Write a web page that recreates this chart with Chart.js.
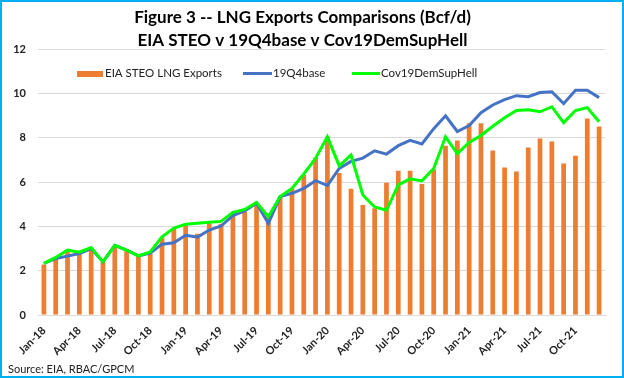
<!DOCTYPE html>
<html>
<head>
<meta charset="utf-8">
<script src="https://cdn.jsdelivr.net/npm/chart.js@4"></script>
<style>
  html, body { margin: 0; padding: 0; background: #fff; }
  #wrap { position: relative; width: 624px; height: 378px; }
  #c { position: absolute; left: 0; top: 0; }
  #frame { position: absolute; left: 0; top: 0; width: 624px; height: 378px; box-sizing: border-box; border: 2px solid #00B0F0; pointer-events: none; }
</style>
</head>
<body>
<div id="wrap">
  <canvas id="c" width="624" height="378"></canvas>
  <div id="frame"></div>
</div>
<script>
const categories = [
  'Jan-18','Feb-18','Mar-18','Apr-18','May-18','Jun-18','Jul-18','Aug-18','Sep-18','Oct-18','Nov-18','Dec-18',
  'Jan-19','Feb-19','Mar-19','Apr-19','May-19','Jun-19','Jul-19','Aug-19','Sep-19','Oct-19','Nov-19','Dec-19',
  'Jan-20','Feb-20','Mar-20','Apr-20','May-20','Jun-20','Jul-20','Aug-20','Sep-20','Oct-20','Nov-20','Dec-20',
  'Jan-21','Feb-21','Mar-21','Apr-21','May-21','Jun-21','Jul-21','Aug-21','Sep-21','Oct-21','Nov-21','Dec-21'
];
const eiaSteoLngExports = [
  2.28, 2.54, 2.85, 2.78, 3.03, 2.39, 3.12, 2.88, 2.67, 2.78, 3.50, 3.89,
  4.05, 3.67, 4.14, 4.12, 4.48, 4.67, 4.96, 4.44, 5.35, 5.70, 6.33, 7.10,
  8.05, 6.42, 5.70, 4.97, 4.82, 5.97, 6.52, 6.52, 5.92, 6.58, 7.65, 7.88,
  8.66, 8.66, 7.43, 6.66, 6.48, 7.57, 7.98, 7.84, 6.84, 7.20, 8.88, 8.52
];
const base19Q4 = [
  2.33, 2.55, 2.66, 2.78, 3.00, 2.40, 3.15, 2.93, 2.67, 2.80, 3.20, 3.26,
  3.60, 3.52, 3.84, 4.02, 4.49, 4.70, 5.05, 4.14, 5.35, 5.50, 5.72, 6.07,
  5.85, 6.62, 6.94, 7.09, 7.42, 7.27, 7.65, 7.89, 7.73, 8.42, 9.00, 8.29,
  8.56, 9.14, 9.49, 9.73, 9.91, 9.86, 10.05, 10.09, 9.55, 10.15, 10.15, 9.82
];
const cov19DemSupHell = [
  2.33, 2.60, 2.93, 2.84, 3.05, 2.40, 3.15, 2.93, 2.67, 2.85, 3.53, 3.93,
  4.10, 4.14, 4.19, 4.23, 4.64, 4.77, 5.09, 4.44, 5.35, 5.72, 6.37, 7.08,
  8.05, 6.74, 7.23, 5.42, 4.88, 4.73, 5.88, 6.15, 6.06, 6.62, 8.05, 7.29,
  7.80, 8.11, 8.53, 8.91, 9.24, 9.27, 9.18, 9.41, 8.69, 9.24, 9.37, 8.73
];
const yTicks = [0, 2, 4, 6, 8, 10, 12];
const titleLines = ['Figure 3 -- LNG Exports Comparisons (Bcf/d)', 'EIA STEO v 19Q4base v Cov19DemSupHell'];
const sourceText = 'Source: EIA, RBAC/GPCM';

const FONT = 'Lato, "Liberation Sans", sans-serif';

const customLegend = {
  id: 'customLegend',
  afterDraw(chart) {
    const ctx = chart.ctx;
    const ds = chart.data.datasets;
    const y = 73.5;
    ctx.save();
    ctx.font = '11.5px ' + FONT;
    ctx.fillStyle = '#222';
    ctx.textBaseline = 'middle';
    ctx.textAlign = 'left';
    ctx.fillStyle = ds[0].backgroundColor;
    ctx.fillRect(77, 71, 26, 6);
    ctx.fillStyle = '#222';
    ctx.fillText(ds[0].label, 105, y);
    const items = [[ds[1], 243, 272], [ds[2], 352, 380]];
    for (const [d, x0, x1] of items) {
      ctx.strokeStyle = d.borderColor;
      ctx.lineWidth = 3;
      ctx.beginPath();
      ctx.moveTo(x0, y);
      ctx.lineTo(x1, y);
      ctx.stroke();
      ctx.fillStyle = '#222';
      ctx.fillText(d.label, x1 + 1, y);
    }
    ctx.font = '11px ' + FONT;
    ctx.fillStyle = '#222';
    ctx.fillText(sourceText, 8, 369);
    ctx.restore();
  }
};

new Chart(document.getElementById('c'), {
  data: {
    labels: categories,
    datasets: [
      { type: 'bar', label: 'EIA STEO LNG Exports', data: eiaSteoLngExports, backgroundColor: '#ED7D31', barPercentage: 0.4, categoryPercentage: 1.0, order: 3 },
      { type: 'line', label: '19Q4base', data: base19Q4, borderColor: '#4472C4', backgroundColor: '#4472C4', borderWidth: 3, pointRadius: 0, tension: 0, order: 2 },
      { type: 'line', label: 'Cov19DemSupHell', data: cov19DemSupHell, borderColor: '#00FF00', backgroundColor: '#00FF00', borderWidth: 3, pointRadius: 0, tension: 0, order: 1 }
    ]
  },
  options: {
    responsive: false,
    animation: false,
    layout: { padding: { left: 0, right: 19, top: 0, bottom: 0 } },
    plugins: {
      legend: { display: false },
      tooltip: { enabled: false },
      title: {
        display: true,
        text: titleLines,
        color: '#000',
        font: { family: FONT, size: 17, weight: 'bold', lineHeight: 1.35 },
        padding: { top: 6.5, bottom: -3 }
      }
    },
    scales: {
      x: {
        grid: { display: false, drawTicks: false },
        border: { display: true, color: '#D9D9D9', width: 1 },
        afterFit(s) { s.height = 63; },
        ticks: {
          autoSkip: false,
          maxRotation: 45,
          minRotation: 45,
          padding: 9,
          color: '#222',
          font: { family: FONT, size: 11, weight: 'bold' },
          callback(v, i) { return i % 3 === 0 ? categories[i] : ''; }
        }
      },
      y: {
        min: 0,
        max: 12,
        afterBuildTicks(s) { s.ticks = yTicks.map(v => ({ value: v })); },
        afterFit(s) { s.width = 38; },
        grid: { color: '#D9D9D9', lineWidth: 1, drawTicks: false },
        border: { display: false },
        ticks: {
          padding: 12,
          color: '#222',
          font: { family: FONT, size: 11, weight: 'bold' }
        }
      }
    }
  },
  plugins: [customLegend]
});
</script>
</body>
</html>
